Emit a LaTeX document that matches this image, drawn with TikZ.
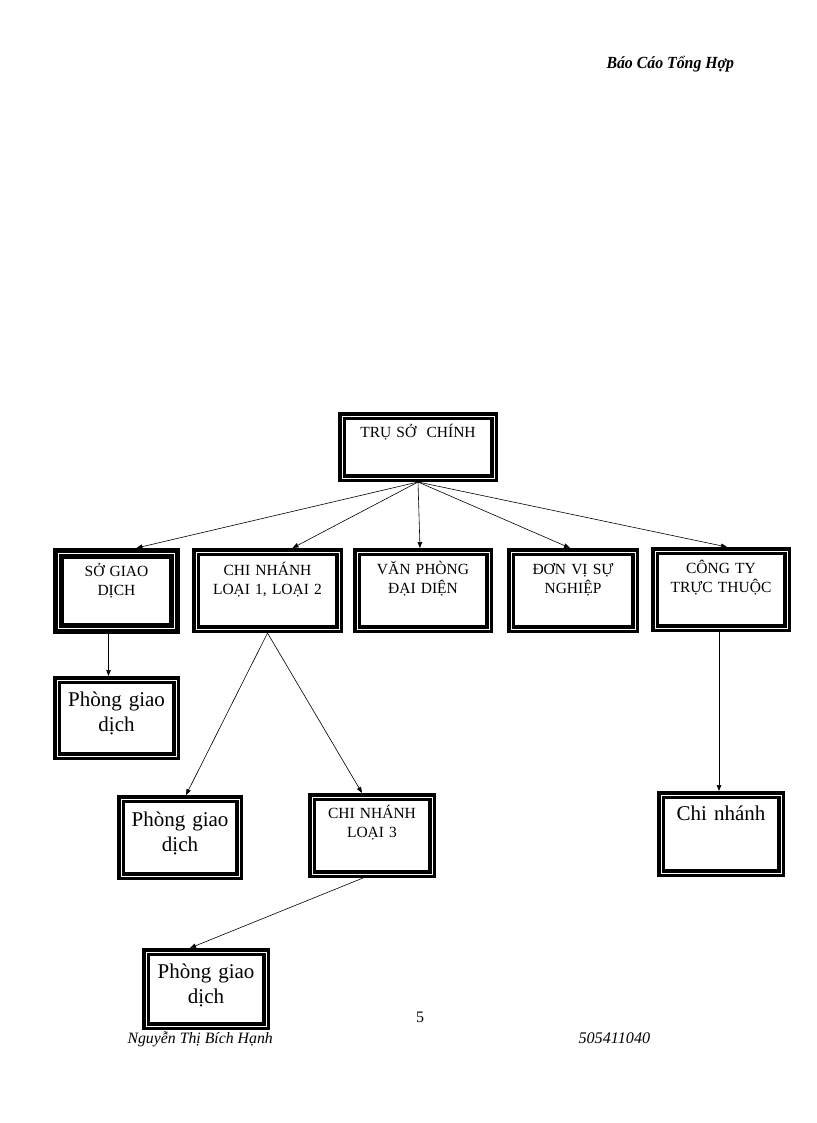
\documentclass[tikz,border=0pt]{standalone}
\usepackage{fontspec}
\setmainfont{Liberation Serif}
\usetikzlibrary{arrows.meta}
\tikzset{
	box/.style={draw, line width=1.1pt, double, double distance=1pt, inner sep=0pt, outer sep=4pt, preaction={draw, line width=8pt}},
	heavybox/.style={box, outer sep=5.5pt, preaction={draw, line width=11pt}},
	boxlbl/.style={anchor=base, text width=150pt, align=center, inner sep=0pt, font=\fontsize{15.5}{19}\selectfont},
	pgdlbl/.style={boxlbl, font=\fontsize{21}{25}\selectfont},
	link/.style={-{Triangle[length=6pt,width=4.5pt]}, line width=0.6pt}
}
\begin{document}
\begin{tikzpicture}[x=1pt,y=-1pt]
					\fill[white] (0,0) rectangle (816,1123);
					\useasboundingbox (0,0) rectangle (816,1123);
					\node[anchor=base west, font=\fontsize{17}{19}\selectfont\bfseries\itshape] (hdr) at (603,69) {\scalebox{0.93}[1]{Báo Cáo Tổng Hợp}};
					% top level
					\node[box, minimum width=152pt, minimum height=62pt, label={[boxlbl, yshift=-25pt]north:TRỤ SỞ\ \ CHÍNH}] (tsc) at (418,447) {};
					% second row
					\node[heavybox, minimum width=116pt, minimum height=75pt, label={[boxlbl, yshift=-28pt]north:SỞ GIAO\\DỊCH}] (sgd) at (116.5,591) {};
					\node[box, minimum width=143pt, minimum height=77pt, label={[boxlbl, yshift=-27pt]north:{CHI NHÁNH\\LOẠI 1, LOẠI 2}}] (cn12) at (267.5,590.5) {};
					\node[box, minimum width=132pt, minimum height=77pt, label={[boxlbl, yshift=-26pt]north:VĂN PHÒNG\\ĐẠI DIỆN}] (vp) at (423,590.5) {};
					\node[box, minimum width=124pt, minimum height=77pt, label={[boxlbl, yshift=-26pt]north:ĐƠN VỊ SỰ\\NGHIỆP}] (dvsn) at (573,590.5) {};
					\node[box, minimum width=132pt, minimum height=77pt, label={[boxlbl, yshift=-26pt]north:CÔNG TY\\TRỰC THUỘC}] (ct) at (721,589.5) {};
					% lower levels
					\node[box, minimum width=119pt, minimum height=76pt, label={[pgdlbl, yshift=-30pt]north:Phòng giao\\dịch}] (pgd1) at (116.5,718) {};
					\node[box, minimum width=118pt, minimum height=77pt, label={[pgdlbl, yshift=-31pt]north:Phòng giao\\dịch}] (pgd2) at (180,837.5) {};
					\node[box, minimum width=120pt, minimum height=77pt, label={[boxlbl, yshift=-25pt]north:CHI NHÁNH\\LOẠI 3}] (cn3) at (372,835.5) {};
					\node[box, minimum width=120pt, minimum height=78pt, label={[pgdlbl, yshift=-29pt]north:Chi nhánh}] (cnh) at (721,834) {};
					\node[box, minimum width=120pt, minimum height=74pt, label={[pgdlbl, yshift=-30pt]north:Phòng giao\\dịch}] (pgd3) at (206,989) {};
					% connectors
					\foreach \n/\dx in {sgd/20,cn12/25,vp/-3,dvsn/-3,ct/6}{
						\draw[link] (tsc.south) -- ([xshift=\dx pt]\n.north);
					};
					\draw[link] ([xshift=-8pt]sgd.south) -- ([xshift=-8pt]pgd1.north);
					\draw[link] (cn12.south) -- ([xshift=6pt]pgd2.north);
					\draw[link] (cn12.south) -- ([xshift=-10pt]cn3.north);
					\draw[link] ([xshift=-9pt]cn3.south) -- ([xshift=-16pt]pgd3.north);
					\draw[link] ([xshift=-2pt]ct.south) -- ([xshift=-2pt]cnh.north);
					% footer
					\node[anchor=base, font=\fontsize{16}{18}\selectfont] (pg) at (420,1022) {5};
					\node[anchor=base west, font=\fontsize{15.8}{18}\selectfont\itshape] (author) at (124,1043) {Nguyễn Thị Bích Hạnh};
					\node[anchor=base west, font=\fontsize{16.2}{18}\selectfont\itshape] (sid) at (575,1043) {505411040};
				\end{tikzpicture}
\end{document}
